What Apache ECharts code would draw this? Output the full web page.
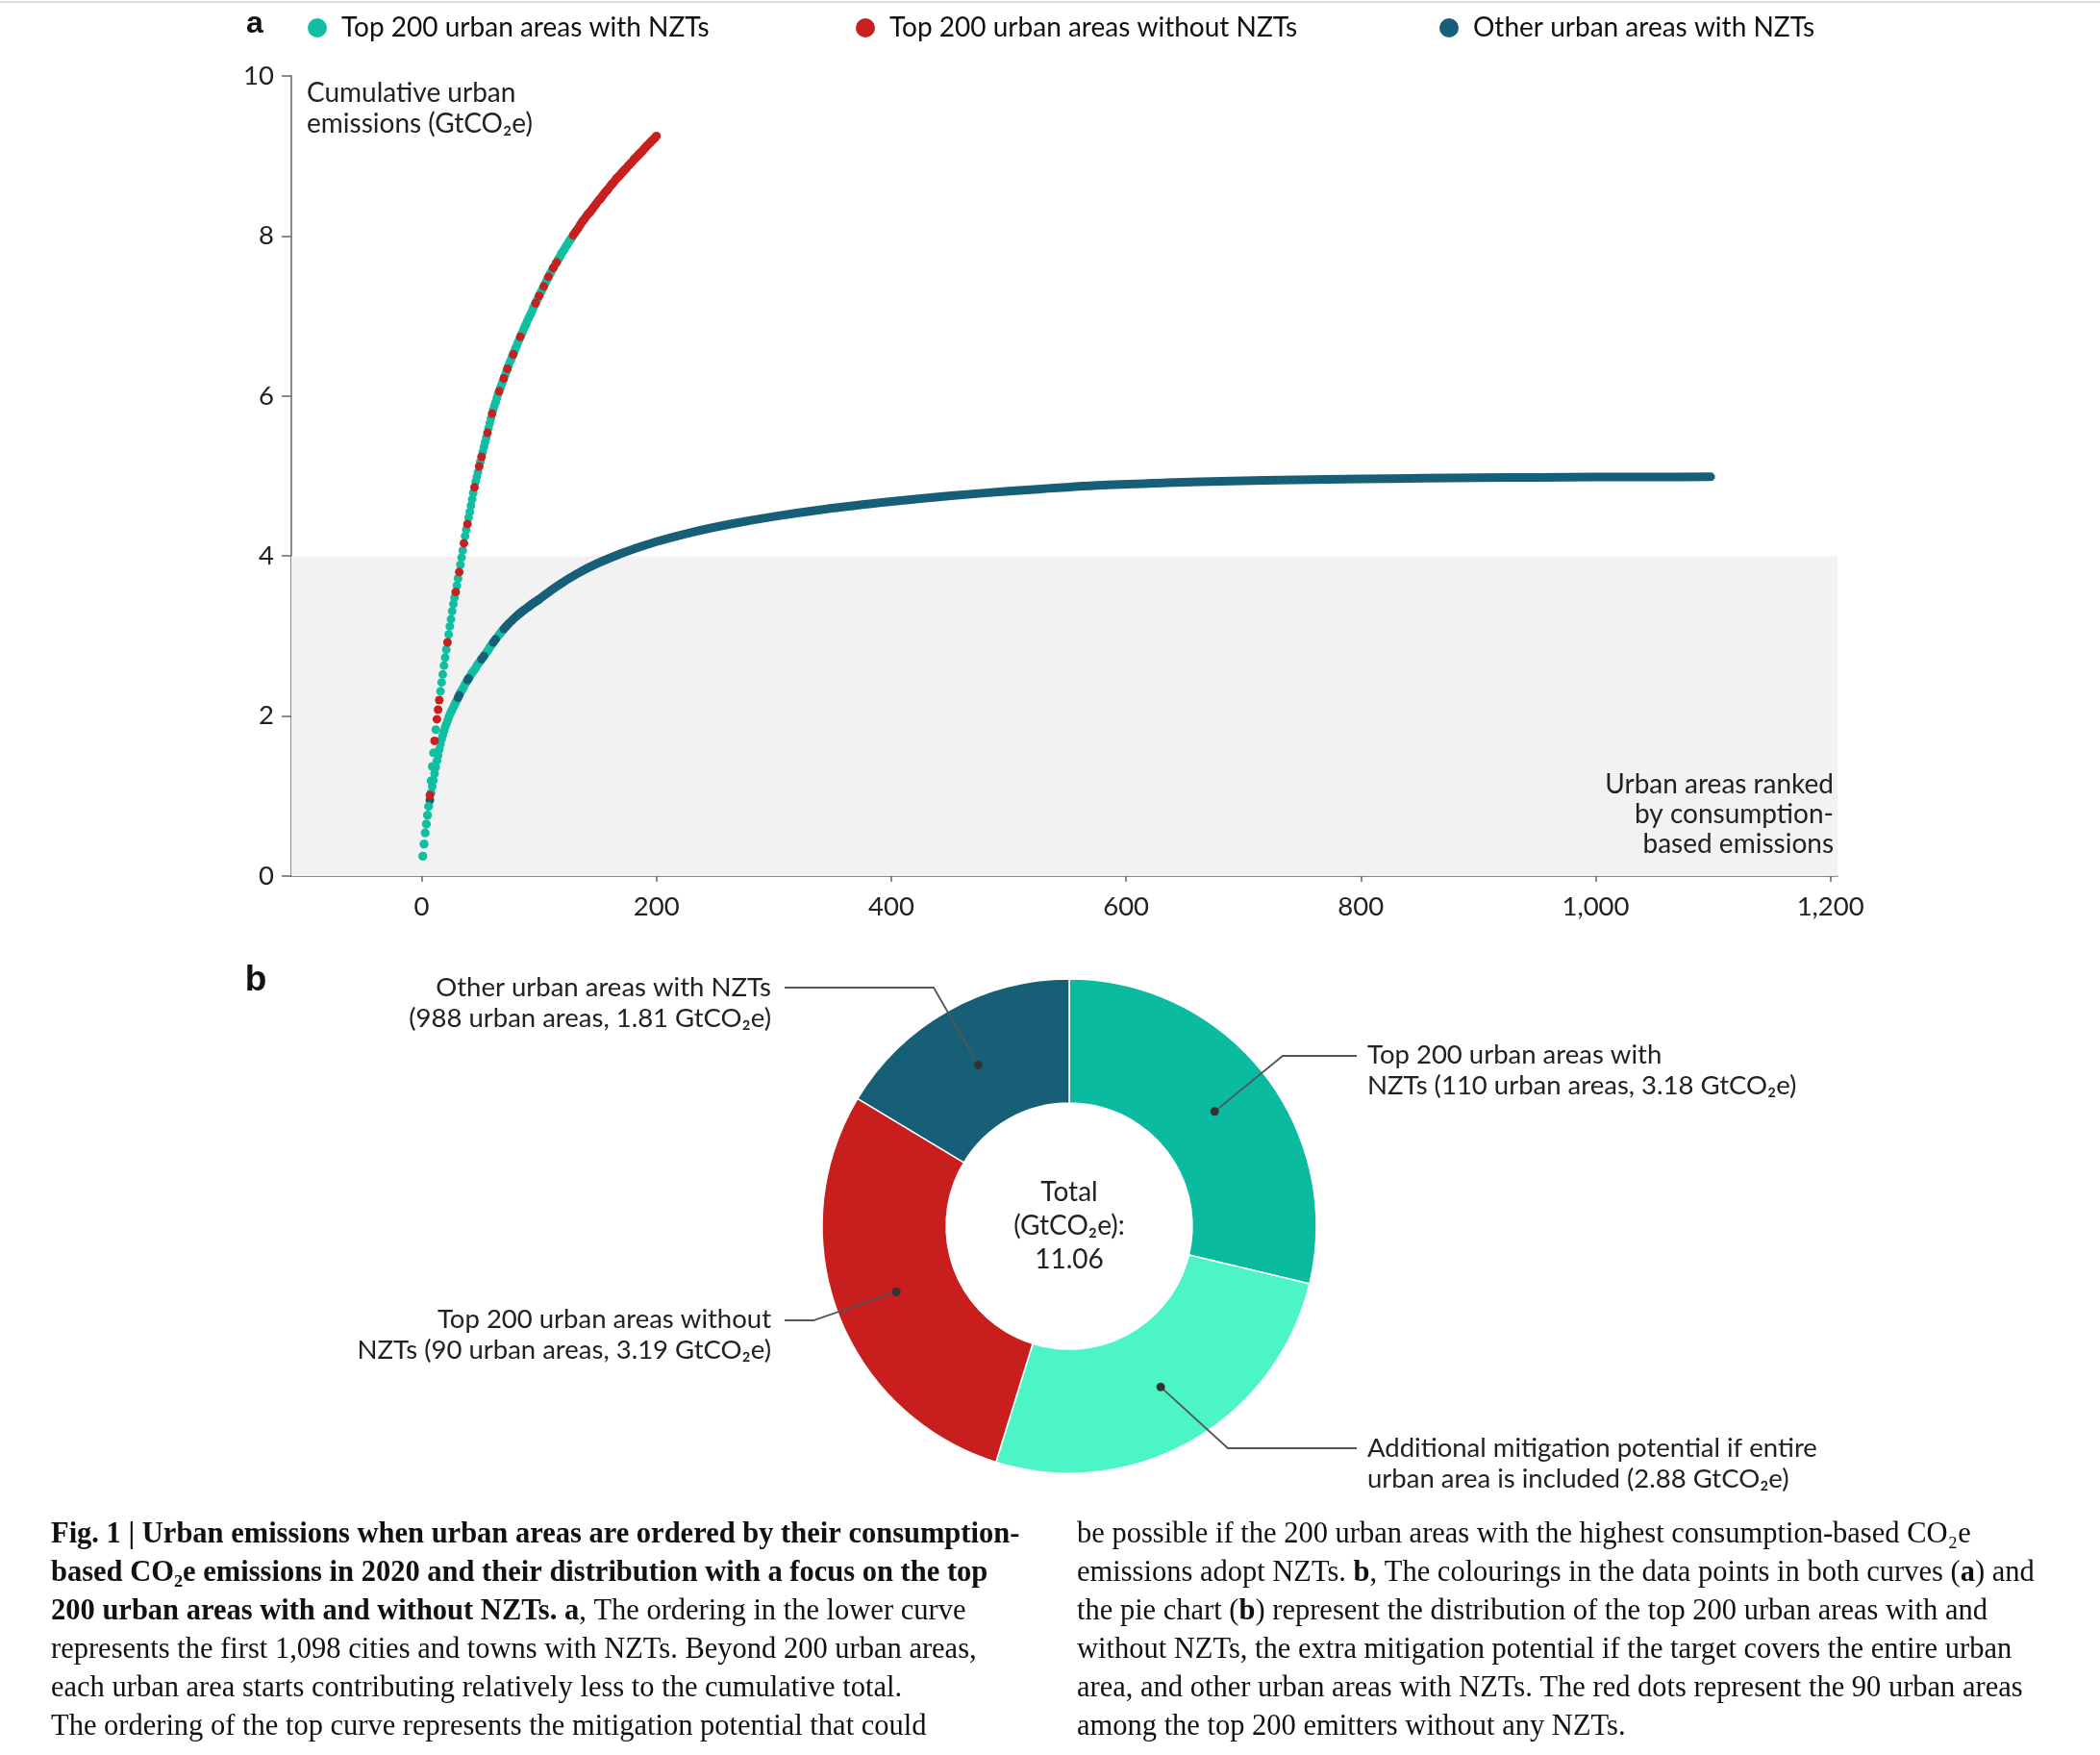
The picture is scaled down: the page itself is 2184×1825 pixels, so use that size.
<!DOCTYPE html>
<html><head><meta charset="utf-8">
<script src="https://cdn.jsdelivr.net/npm/echarts@6/dist/echarts.min.js"></script>
<style>html,body{margin:0;padding:0;background:#fff}#c{width:2184px;height:1825px}</style>
</head><body><div id="c"></div>
<script>
// ---------- DATA ----------
const seriesNames = ['Top 200 urban areas with NZTs', 'Top 200 urban areas without NZTs', 'Other urban areas with NZTs'];

// Top curve: cumulative emissions (GtCO2e) of the top 200 urban areas, rank 1..200
const topCum = [
  0.25,0.40,0.54,0.65,0.76, 0.87,1.01,1.19,1.37,1.54, 1.69,1.83,1.96,2.08,2.20, 2.31,2.42,2.52,2.63,2.73,
  2.83,2.92,3.02,3.12,3.21, 3.31,3.40,3.48,3.55,3.63, 3.72,3.80,3.89,3.98,4.07, 4.16,4.25,4.33,4.40,4.48,
  4.55,4.63,4.71,4.79,4.86, 4.93,4.99,5.05,5.12,5.18, 5.24,5.30,5.36,5.42,5.48, 5.54,5.60,5.66,5.72,5.78,
  5.83,5.88,5.92,5.97,6.02, 6.06,6.10,6.14,6.18,6.22, 6.26,6.30,6.34,6.38,6.42, 6.45,6.49,6.52,6.56,6.60,
  6.63,6.67,6.70,6.74,6.77, 6.80,6.84,6.87,6.90,6.94, 6.97,7.00,7.03,7.06,7.10, 7.13,7.16,7.19,7.22,7.25,
  7.28,7.31,7.34,7.37,7.40, 7.43,7.46,7.49,7.52,7.54, 7.57,7.60,7.62,7.65,7.67, 7.70,7.72,7.75,7.78,7.80,
  7.82,7.85,7.87,7.89,7.92, 7.94,7.96,7.98,8.01,8.03, 8.05,8.07,8.09,8.11,8.14, 8.16,8.18,8.20,8.22,8.24,
  8.26,8.28,8.29,8.31,8.33, 8.35,8.37,8.39,8.41,8.43, 8.45,8.46,8.48,8.50,8.52, 8.54,8.56,8.57,8.59,8.61,
  8.63,8.65,8.66,8.68,8.70, 8.72,8.73,8.75,8.76,8.78, 8.80,8.81,8.83,8.84,8.86, 8.88,8.89,8.91,8.92,8.94,
  8.96,8.97,8.99,9.00,9.02, 9.03,9.05,9.06,9.08,9.10, 9.11,9.13,9.14,9.16,9.17, 9.19,9.20,9.22,9.23,9.25
];
// Ranks on the top curve belonging to urban areas without NZTs (red)
const topRedRanks = [
  7,11,13,14,15,22,29,32,36,39,45,49,51,56,60,66,70,73,78,84,97,100,104,108,112,115,129,131,133,135,
  137,138,139,141,142,143,144,145,146,147,148,149,151,152,153,154,155,156,157,158,159,
  161,162,163,164,165,166,167,168,169,170,171,172,173,174,176,177,178,179,180,
  181,182,183,184,185,186,187,188,189,190,191,192,193,194,195,196,197,198,199,200
];

// Lower curve: cumulative emissions of urban areas with NZTs, rank 1..100 (individual dots)
const lowerCum = [
  0.25,0.40,0.54,0.65,0.76, 0.87,0.95,1.04,1.12,1.20, 1.28,1.36,1.44,1.51,1.58, 1.65,1.71,1.76,1.81,1.86,
  1.90,1.94,1.98,2.02,2.05, 2.08,2.11,2.14,2.17,2.20, 2.23,2.26,2.29,2.32,2.34, 2.37,2.40,2.42,2.45,2.47,
  2.49,2.52,2.54,2.56,2.58, 2.60,2.63,2.65,2.67,2.69, 2.71,2.73,2.75,2.77,2.79, 2.81,2.83,2.86,2.88,2.90,
  2.920,2.940,2.960,2.979,2.998, 3.017,3.035,3.053,3.071,3.088, 3.105,3.121,3.137,3.152,3.167, 3.182,3.196,3.210,3.224,3.237,
  3.250,3.263,3.275,3.287,3.299, 3.311,3.322,3.333,3.344,3.355, 3.366,3.377,3.388,3.399,3.409, 3.419,3.429,3.439,3.449,3.459
];
// Ranks on the lower curve that are "other" urban areas (dark)
const lowerDarkRanks = [7,31,32,39,40,51,53,61,63,70,71,72,74,77,78,80,81,83,84,85,86,87,88,90,91,92,93,94,95,96,97,98,99,100];
// Lower curve beyond rank 100 (read at sampled ranks)
const lowerTailRanks = [100,116,132,150,169,181,200,230,263,300,345,390,427,475,525,580,634,690,744,800,853,900,951,1000,1050,1098];
const lowerTailVals  = [3.459,3.630,3.776,3.910,4.026,4.090,4.18,4.296,4.399,4.494,4.589,4.666,4.721,4.782,4.836,4.885,4.915,4.937,4.953,4.964,4.972,4.978,4.983,4.987,4.989,4.99];

const xTickValues = [0,200,400,600,800,1000,1200];
const yTickMax = 10;
const bandTop = 4;

// Pie (panel b)
const pieNames  = ['Top 200 with NZTs', 'Additional mitigation potential', 'Top 200 without NZTs', 'Other with NZTs'];
const pieValues = [3.18, 2.88, 3.19, 1.81];
const pieLabels = [
  'Top 200 urban areas with\nNZTs (110 urban areas, 3.18 GtCO₂e)',
  'Additional mitigation potential if entire\nurban area is included (2.88 GtCO₂e)',
  'Top 200 urban areas without\nNZTs (90 urban areas, 3.19 GtCO₂e)',
  'Other urban areas with NZTs\n(988 urban areas, 1.81 GtCO₂e)'
];

// ---------- STYLE / LAYOUT ----------
const C_TEAL = '#10BFA1', C_RED = '#C81F1F', C_DARK = '#175F78';
const pieColors = ['#0BBBA0', '#4BF5C6', '#C81E1E', '#175F77'];
const FONT = 'Lato, "Noto Sans", sans-serif';
const SERIF = '"Liberation Serif", "DejaVu Serif", serif';
const pieCenter = [1112, 1275];
const pieR = [128, 257];
const labelPos = [
  {x:1422, y:1081, align:'left',  elbowX:1334, endX:1411, lineY:1098},
  {x:1422, y:1490, align:'left',  elbowX:1277, endX:1411, lineY:1506},
  {x:802,  y:1356, align:'right', elbowX:846,  endX:816,  lineY:1373},
  {x:802,  y:1011, align:'right', elbowX:971,  endX:816,  lineY:1027}
];

// ---------- BUILD ----------
const redSet = new Set(topRedRanks);
const darkSet = new Set(lowerDarkRanks);
const topTeal = [], topRed = [], lowTeal = [], lowDark = [];
topCum.forEach((v,i)=>{ const r=i+1; (redSet.has(r)?topRed:topTeal).push([r,v]); });
lowerCum.forEach((v,i)=>{ const r=i+1; (darkSet.has(r)?lowDark:lowTeal).push([r,v]); });
const tail = lowerTailRanks.map((r,i)=>[r, lowerTailVals[i]]);

const total = pieValues.reduce((a,b)=>a+b,0);
const midR = (pieR[0]+pieR[1])/2;
let acc = 0;
const pieGraphics = [];
pieValues.forEach((v,i)=>{
  const th = (acc + v/2)/total*2*Math.PI; acc += v;
  const px = pieCenter[0] + midR*Math.sin(th), py = pieCenter[1] - midR*Math.cos(th);
  const L = labelPos[i];
  pieGraphics.push({type:'polyline', silent:true, z:100, shape:{points:[[px,py],[L.elbowX,L.lineY],[L.endX,L.lineY]]}, style:{stroke:'#555', lineWidth:1.8, fill:null}});
  pieGraphics.push({type:'circle', silent:true, z:101, shape:{cx:px, cy:py, r:4.5}, style:{fill:'#333'}});
});

const sym = 9;
const legendLeft = [315, 885, 1492];
const legendColors = [C_TEAL, C_RED, C_DARK];

const capLeft = [
  [['b','Fig. 1 | Urban emissions when urban areas are ordered by their consumption-']],
  [['b','based CO₂e emissions in 2020 and their distribution with a focus on the top']],
  [['b','200 urban areas with and without NZTs. a'],['r',', The ordering in the lower curve']],
  [['r','represents the first 1,098 cities and towns with NZTs. Beyond 200 urban areas,']],
  [['r','each urban area starts contributing relatively less to the cumulative total.']],
  [['r','The ordering of the top curve represents the mitigation potential that could']]
];
const capRight = [
  [['r','be possible if the 200 urban areas with the highest consumption-based CO₂e']],
  [['r','emissions adopt NZTs. '],['b','b'],['r',', The colourings in the data points in both curves ('],['b','a'],['r',') and']],
  [['r','the pie chart ('],['b','b'],['r',') represent the distribution of the top 200 urban areas with and']],
  [['r','without NZTs, the extra mitigation potential if the target covers the entire urban']],
  [['r','area, and other urban areas with NZTs. The red dots represent the 90 urban areas']],
  [['r','among the top 200 emitters without any NZTs.']]
];
const CAP_FS = 30.5;
const capRich = {
  b:{fontFamily:SERIF, fontSize:CAP_FS, fontWeight:'bold', fill:'#111'},
  r:{fontFamily:SERIF, fontSize:CAP_FS, fontWeight:'normal', fill:'#111'}
};
const capGraphics = [];
[[capLeft,53],[capRight,1120]].forEach(([lines,x])=>{
  lines.forEach((parts,i)=>{
    capGraphics.push({type:'text', silent:true, z:100, x:x, y:1596+i*40, style:{
      text: parts.map(p=>'{'+p[0]+'|'+p[1]+'}').join(''), rich:capRich,
      align:'left', verticalAlign:'middle', fontFamily:SERIF, fontSize:CAP_FS, fill:'#111'}});
  });
});

const option = {
  animation:false,
  backgroundColor:'#fff',
  textStyle:{fontFamily:FONT},
  grid:{left:303, right:273, top:79, bottom:914, containLabel:false},
  legend: seriesNames.map((n,i)=>({
    data:[{name:n, itemStyle:{color:legendColors[i]}}], left:legendLeft[i], top:10, icon:'circle',
    itemWidth:40, itemHeight:20, itemGap:0, selectedMode:false,
    textStyle:{fontSize:28, color:'#111', fontFamily:FONT}
  })),
  xAxis:{type:'value', min:-111, max:1206,
    axisLine:{show:true, onZero:false, lineStyle:{color:'#666', width:1.5}},
    axisTick:{show:true, length:6, customValues:xTickValues, lineStyle:{color:'#666', width:1.5}},
    splitLine:{show:false},
    axisLabel:{customValues:xTickValues, fontSize:27.5, color:'#222', margin:18, fontFamily:FONT,
      formatter:v=>Number(v).toLocaleString('en-US')}
  },
  yAxis:{type:'value', min:0, max:yTickMax, interval:2,
    axisLine:{show:true, onZero:false, lineStyle:{color:'#666', width:1.5}},
    axisTick:{show:true, length:10, lineStyle:{color:'#666', width:1.5}},
    splitLine:{show:false},
    axisLabel:{fontSize:27.5, color:'#222', margin:18, fontFamily:FONT}
  },
  series:[
    {type:'line', name:'band', data:[], z:0, silent:true,
      markArea:{silent:true, itemStyle:{color:'#f2f2f2'}, data:[[{yAxis:0},{yAxis:bandTop}]]}},
    {type:'scatter', name:seriesNames[0], data:lowTeal, symbolSize:sym, itemStyle:{color:C_TEAL, opacity:1}, z:3, silent:true},
    {type:'scatter', name:seriesNames[2], data:lowDark, symbolSize:sym, itemStyle:{color:C_DARK, opacity:1}, z:4, silent:true},
    {type:'line', name:seriesNames[2], data:tail, smooth:0.35, showSymbol:false, symbol:'none',
      lineStyle:{color:C_DARK, width:sym, cap:'round', join:'round'}, itemStyle:{color:C_DARK}, z:4, silent:true},
    {type:'scatter', name:seriesNames[0], data:topTeal, symbolSize:sym, itemStyle:{color:C_TEAL, opacity:1}, z:5, silent:true},
    {type:'scatter', name:seriesNames[1], data:topRed, symbolSize:sym, itemStyle:{color:C_RED, opacity:1}, z:6, silent:true},
    {type:'pie', name:'pie', center:pieCenter, radius:pieR, startAngle:90, clockwise:true,
      avoidLabelOverlap:false, silent:true,
      itemStyle:{borderColor:'#fff', borderWidth:1.5},
      data: pieNames.map((n,i)=>({name:n, value:pieValues[i], itemStyle:{color:pieColors[i]}})),
      label:{show:true, formatter:p=>pieLabels[p.dataIndex], fontSize:27.5, lineHeight:32, color:'#222', fontFamily:FONT},
      labelLine:{show:false},
      labelLayout:p=>{const L=labelPos[p.dataIndex]; return {x:L.x, y:L.y, align:L.align, verticalAlign:'top'};}
    }
  ],
  graphic:[
    {type:'line', silent:true, z:100, shape:{x1:0,y1:2,x2:2184,y2:2}, style:{stroke:'#dcdcdc', lineWidth:2}},
    {type:'text', silent:true, z:100, x:265, y:25, style:{text:'a', fontFamily:'"Liberation Sans", Arial, sans-serif', fontWeight:'bold', fontSize:32, fill:'#111', align:'center', verticalAlign:'middle'}},
    {type:'text', silent:true, z:100, x:266, y:1020, style:{text:'b', fontFamily:'"Liberation Sans", Arial, sans-serif', fontWeight:'bold', fontSize:37, fill:'#111', align:'center', verticalAlign:'middle'}},
    {type:'text', silent:true, z:100, x:319, y:81, style:{text:'Cumulative urban\nemissions (GtCO₂e)', fontFamily:FONT, fontSize:28, lineHeight:32, fill:'#222', align:'left', verticalAlign:'top'}},
    {type:'text', silent:true, z:100, x:1907, y:800, style:{text:'Urban areas ranked\nby consumption-\nbased emissions', fontFamily:FONT, fontSize:28, lineHeight:31, fill:'#222', align:'right', verticalAlign:'top'}},
    {type:'text', silent:true, z:100, x:pieCenter[0], y:pieCenter[1], style:{text:'Total\n(GtCO₂e):\n'+total.toFixed(2), fontFamily:FONT, fontSize:28, lineHeight:35, fill:'#222', align:'center', verticalAlign:'middle'}}
  ].concat(pieGraphics, capGraphics)
};
const chart = echarts.init(document.getElementById('c'), null, {renderer:'canvas'});
chart.setOption(option);
</script></body></html>
